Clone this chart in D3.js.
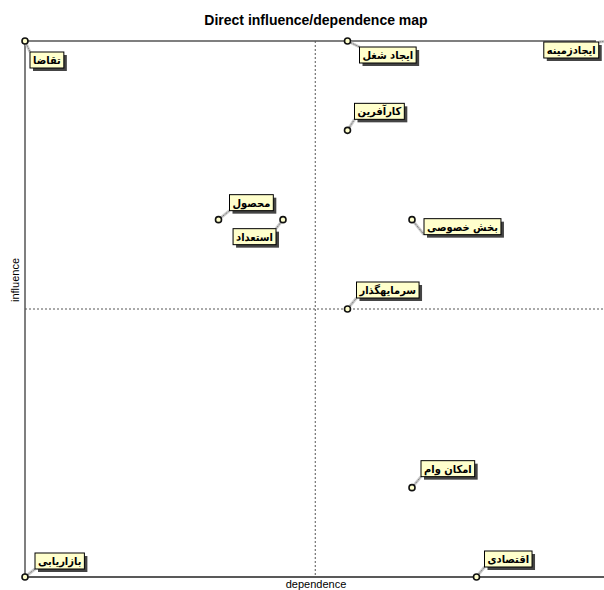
<!DOCTYPE html>
<html><head><meta charset="utf-8">
<script src="https://cdn.jsdelivr.net/npm/d3@7"></script>
<style>body{margin:0;background:#fff}svg{display:block}</style>
</head><body>
<svg id="chart" width="604" height="590"></svg>
<script>
// Data
const variables = ["تقاضا","ایجاد شغل","ایجادزمینه","کارآفرین","محصول","استعداد","بخش خصوصی","سرمایهگذار","امکان وام","بازاریابی","اقتصادی"];
const dependence = [0, 5, 9.05, 5, 3, 4, 6, 5, 6, 0, 7];
const influence  = [6, 6, 6, 5, 4, 4, 4, 3, 1, 0, 0];
const meanDependence = 4.5;
const meanInfluence = 3;
// label placement (layout only): offset of the label box's nearest edge from its point
const labelDx = [5, 12, -10, 7, 11, -7, 12, 9, 9, 10, 8];
const labelDy = [11, 6, 1, -27, -25, 9, -1, -27, -27, -24, -26];

const svg = d3.select("#chart");
const x = d3.scaleLinear().domain([0, 9]).range([25, 605.5]);
const y = d3.scaleLinear().domain([0, 6]).range([577, 41]);

svg.append("text").attr("x", 316).attr("y", 25).attr("text-anchor", "middle")
  .attr("font-family", "Liberation Sans, Arial, sans-serif").attr("font-weight", "bold")
  .attr("font-size", 14).attr("fill", "#000").text("Direct influence/dependence map");

// mean lines
svg.append("line").attr("x1", x(meanDependence)).attr("x2", x(meanDependence))
  .attr("y1", y(6)).attr("y2", y(0)).attr("stroke", "#555").attr("stroke-dasharray", "2,2");
svg.append("line").attr("x1", x(0)).attr("x2", 604)
  .attr("y1", y(meanInfluence)).attr("y2", y(meanInfluence)).attr("stroke", "#555").attr("stroke-dasharray", "2,2");

// frame
svg.append("line").attr("x1", x(0)).attr("x2", x(0)).attr("y1", y(6)).attr("y2", y(0)).attr("stroke", "#555").attr("stroke-width", 1.5);
svg.append("line").attr("x1", x(0)).attr("x2", 596).attr("y1", y(6)).attr("y2", y(6)).attr("stroke", "#555").attr("stroke-width", 1.5);
svg.append("line").attr("x1", x(0)).attr("x2", 604).attr("y1", y(0)).attr("y2", y(0)).attr("stroke", "#222").attr("stroke-width", 1.5);

// axis titles
svg.append("text").attr("x", 316).attr("y", 588).attr("text-anchor", "middle")
  .attr("font-family", "Liberation Sans, Arial, sans-serif").attr("font-size", 11).text("dependence");
svg.append("text").attr("transform", "translate(19,280) rotate(-90)").attr("text-anchor", "middle")
  .attr("font-family", "Liberation Sans, Arial, sans-serif").attr("font-size", 11).text("influence");

const data = variables.map((v, i) => ({name: v, dep: dependence[i], inf: influence[i], dx: labelDx[i], dy: labelDy[i]}));

const g = svg.selectAll("g.pt").data(data).enter().append("g").attr("class", "pt");
g.each(function(d) {
  const sel = d3.select(this);
  const px = x(d.dep), py = y(d.inf);
  const t = sel.append("text").attr("font-family", "DejaVu Sans Condensed, DejaVu Sans, sans-serif").attr("font-weight", "bold")
    .attr("font-size", 11).attr("direction", "rtl").text(d.name);
  const w = t.node().getComputedTextLength() + 6, h = 16;
  const bx = d.dx < 0 ? px + d.dx - w : px + d.dx;
  const by = py + d.dy;
  const cx = d.dx < 0 ? bx + w : bx;
  const cy = d.dy < 0 ? by + h : by;
  sel.insert("line", "text").attr("x1", px).attr("y1", py).attr("x2", cx).attr("y2", cy)
    .attr("stroke", "#ccc").attr("stroke-width", 3);
  sel.insert("line", "text").attr("x1", px).attr("y1", py).attr("x2", cx).attr("y2", cy)
    .attr("stroke", "#666").attr("stroke-width", 1).attr("stroke-dasharray", "1,1");
  sel.insert("rect", "text").attr("x", bx + 3).attr("y", by + 3).attr("width", w).attr("height", h).attr("fill", "#444");
  sel.insert("rect", "text").attr("x", bx).attr("y", by).attr("width", w).attr("height", h)
    .attr("fill", "#ffffcc").attr("stroke", "#000").attr("stroke-width", 1);
  t.attr("x", bx + w - 3).attr("y", by + 12).attr("text-anchor", "start");
  sel.append("circle").attr("cx", px).attr("cy", py).attr("r", 3)
    .attr("fill", "#ffffcc").attr("stroke", "#111").attr("stroke-width", 1.6);
});
</script>
</body></html>
